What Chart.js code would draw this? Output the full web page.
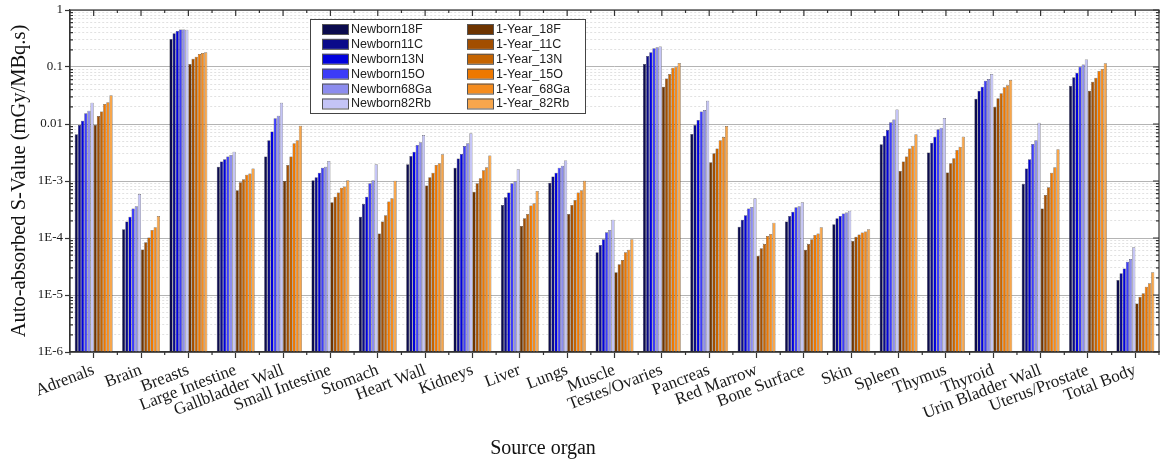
<!DOCTYPE html>
<html>
<head>
<meta charset="utf-8">
<script src="https://cdn.jsdelivr.net/npm/chart.js@4.4.1/dist/chart.umd.min.js"></script>
<style>
  html, body { margin: 0; padding: 0; background: #ffffff; }
  #wrap { position: relative; width: 1161px; height: 462px; }
</style>
</head>
<body>
<div id="wrap"><canvas id="c" width="1161" height="462"></canvas></div>
<script>
const categories = ['Adrenals','Brain','Breasts','Large Intestine','Gallbladder Wall','Small Intestine','Stomach','Heart Wall','Kidneys','Liver','Lungs','Muscle','Testes/Ovaries','Pancreas','Red Marrow','Bone Surface','Skin','Spleen','Thymus','Thyroid','Urin Bladder Wall','Uterus/Prostate','Total Body'];

const seriesNames = ['Newborn18F','Newborn11C','Newborn13N','Newborn15O','Newborn68Ga','Newborn82Rb','1-Year_18F','1-Year_11C','1-Year_13N','1-Year_15O','1-Year_68Ga','1-Year_82Rb'];

const newborn18F  = [0.0066, 1.42e-4, 0.31, 1.78e-3, 2.68e-3, 1.03e-3, 2.36e-4, 1.96e-3, 1.7e-3, 3.8e-4, 9.3e-4, 5.6e-5, 0.113, 6.7e-3, 1.58e-4, 1.94e-4, 1.74e-4, 4.4e-3, 3.15e-3, 0.0278, 8.9e-4, 0.047, 1.83e-5];
const newborn11C  = [0.0096, 1.95e-4, 0.39, 2.19e-3, 5.2e-3, 1.16e-3, 3.96e-4, 2.75e-3, 2.47e-3, 5.2e-4, 1.2e-3, 7.5e-5, 0.156, 9.6e-3, 2.08e-4, 2.44e-4, 2.22e-4, 6.2e-3, 4.7e-3, 0.0384, 1.66e-3, 0.066, 2.4e-5];
const newborn13N  = [0.0114, 2.36e-4, 0.43, 2.4e-3, 7.4e-3, 1.4e-3, 5.3e-4, 3.27e-3, 2.98e-3, 6.3e-4, 1.4e-3, 9.5e-5, 0.181, 0.0118, 2.5e-4, 2.9e-4, 2.44e-4, 7.85e-3, 6.0e-3, 0.045, 2.4e-3, 0.0795, 2.93e-5];
const newborn15O  = [0.0154, 3.3e-4, 0.457, 2.68e-3, 0.0126, 1.7e-3, 9.1e-4, 4.3e-3, 4.1e-3, 9.1e-4, 1.7e-3, 1.26e-4, 0.213, 0.0165, 3.3e-4, 3.45e-4, 2.7e-4, 0.0107, 8.1e-3, 0.0575, 4.45e-3, 0.101, 3.85e-5];
const newborn68Ga = [0.017, 3.6e-4, 0.457, 2.87e-3, 0.014, 1.78e-3, 1.03e-3, 4.8e-3, 4.6e-3, 9.8e-4, 1.85e-3, 1.38e-4, 0.221, 0.0176, 3.5e-4, 3.6e-4, 2.8e-4, 0.012, 8.6e-3, 0.0617, 5.2e-3, 0.111, 4.3e-5];
const newborn82Rb = [0.0237, 5.9e-4, 0.45, 3.27e-3, 0.0237, 2.24e-3, 1.96e-3, 6.4e-3, 6.9e-3, 1.6e-3, 2.3e-3, 2.08e-4, 0.23, 0.0256, 5e-4, 4.25e-4, 3.0e-4, 0.018, 0.0127, 0.075, 0.0105, 0.136, 6.9e-5];
const year18F  = [0.0096, 6.3e-5, 0.113, 6.9e-4, 1.0e-3, 4.25e-4, 1.2e-4, 8.3e-4, 6.5e-4, 1.63e-4, 2.63e-4, 2.5e-5, 0.045, 2.13e-3, 4.9e-5, 6.2e-5, 8.9e-5, 1.5e-3, 1.41e-3, 0.0201, 3.3e-4, 0.0384, 7.1e-6];
const year11C  = [0.0138, 8.4e-5, 0.14, 9.5e-4, 1.9e-3, 5.3e-4, 1.94e-4, 1.16e-3, 9.1e-4, 2.22e-4, 3.8e-4, 3.46e-5, 0.063, 3.06e-3, 6.6e-5, 7.85e-5, 1.05e-4, 2.19e-3, 2.04e-3, 0.0282, 5.7e-4, 0.055, 9.3e-6];
const year13N  = [0.0165, 1.02e-4, 0.152, 1.07e-3, 2.68e-3, 6.3e-4, 2.5e-4, 1.4e-3, 1.12e-3, 2.63e-4, 4.65e-4, 4.1e-5, 0.075, 3.7e-3, 7.85e-5, 9.5e-5, 1.15e-4, 2.68e-3, 2.5e-3, 0.0345, 7.8e-4, 0.065, 1.07e-5];
const year15O  = [0.0224, 1.38e-4, 0.169, 1.29e-3, 4.6e-3, 7.6e-4, 4.35e-4, 1.9e-3, 1.55e-3, 3.7e-4, 6.3e-4, 5.6e-5, 0.097, 5.2e-3, 1.08e-4, 1.13e-4, 1.25e-4, 3.7e-3, 3.5e-3, 0.044, 1.4e-3, 0.085, 1.4e-5];
const year68Ga = [0.024, 1.54e-4, 0.176, 1.36e-3, 5.2e-3, 8.0e-4, 5e-4, 2.04e-3, 1.74e-3, 4.06e-4, 6.9e-4, 6.2e-5, 0.101, 5.9e-3, 1.17e-4, 1.2e-4, 1.3e-4, 4.17e-3, 3.96e-3, 0.0477, 1.74e-3, 0.092, 1.6e-5];
const year82Rb = [0.032, 2.44e-4, 0.181, 1.65e-3, 9.3e-3, 1.03e-3, 1.01e-3, 2.94e-3, 2.79e-3, 6.7e-4, 1.01e-3, 9.5e-5, 0.118, 9.2e-3, 1.86e-4, 1.54e-4, 1.42e-4, 6.6e-3, 6.0e-3, 0.059, 3.6e-3, 0.116, 2.5e-5];

const yTickDecades = [1e-6, 1e-5, 1e-4, 1e-3, 0.01, 0.1, 1];
const yTickLabels  = ['1E-6', '1E-5', '1E-4', '1E-3', '0.01', '0.1', '1'];

const seriesValues = [newborn18F, newborn11C, newborn13N, newborn15O, newborn68Ga, newborn82Rb,
                      year18F, year11C, year13N, year15O, year68Ga, year82Rb];
const seriesColors = ['#0b0b4e', '#0a0a8a', '#0000dd', '#3c3cf8', '#8c8cee', '#c4c4f6',
                      '#6e3400', '#a24e00', '#c66400', '#ee7800', '#f58c1e', '#f7a64c'];

const serif = '"Liberation Serif", "Times New Roman", serif';
const sans = '"Liberation Sans", Arial, sans-serif';

function isDecade(v) {
  const l = Math.log10(v);
  return Math.abs(l - Math.round(l)) < 1e-9;
}

const datasets = seriesNames.map((name, i) => ({
  label: name,
  data: seriesValues[i],
  backgroundColor: seriesColors[i],
  borderColor: 'rgba(30,30,30,0.85)',
  borderWidth: 0.5,
  borderSkipped: false,
  categoryPercentage: 0.8,
  barPercentage: 1.0
}));

const framePlugin = {
  id: 'frame',
  afterDatasetsDraw(chart) {
    const { ctx, chartArea: a, scales } = chart;
    const x = scales.x, y = scales.y;
    ctx.save();
    ctx.strokeStyle = '#333333';
    ctx.lineWidth = 1.2;
    ctx.strokeRect(a.left, a.top, a.right - a.left, a.bottom - a.top);
    ctx.beginPath();
    const n = categories.length;
    for (let i = 0; i < n; i++) {
      const cx = x.getPixelForValue(i);
      ctx.moveTo(cx, a.top); ctx.lineTo(cx, a.top + 6);
    }
    for (let i = 0; i <= n; i++) {
      const bx = x.getPixelForValue(i - 0.5);
      ctx.moveTo(bx, a.top); ctx.lineTo(bx, a.top + 3);
      ctx.moveTo(bx, a.bottom); ctx.lineTo(bx, a.bottom + 3);
    }
    y.ticks.forEach(t => {
      const py = y.getPixelForValue(t.value);
      const len = isDecade(t.value) ? 6 : 3;
      ctx.moveTo(a.right, py); ctx.lineTo(a.right - len, py);
      if (!isDecade(t.value)) { ctx.moveTo(a.left, py); ctx.lineTo(a.left + 3, py); }
    });
    ctx.stroke();
    ctx.restore();
  },
  afterDraw(chart) {
    const { ctx } = chart;
    const bx = 310, by = 19, bw = 275, bh = 94;
    ctx.save();
    ctx.fillStyle = '#ffffff';
    ctx.fillRect(bx, by, bw, bh);
    ctx.strokeStyle = '#444444';
    ctx.lineWidth = 1;
    ctx.strokeRect(bx + 0.5, by + 0.5, bw, bh);
    ctx.font = '12.5px ' + sans;
    ctx.textBaseline = 'middle';
    chart.data.datasets.forEach((ds, i) => {
      const col = Math.floor(i / 6), row = i % 6;
      const sx = col === 0 ? 322 : 467;
      const sy = 29 + row * 14.9;
      ctx.fillStyle = ds.backgroundColor;
      ctx.fillRect(sx, sy - 5, 26, 10);
      ctx.strokeStyle = '#555555';
      ctx.strokeRect(sx + 0.5, sy - 5 + 0.5, 26, 10);
      ctx.fillStyle = '#222222';
      ctx.fillText(ds.label, sx + 29, sy + 0.5);
    });
    ctx.font = '20px ' + serif;
    ctx.fillStyle = '#111111';
    ctx.textAlign = 'center';
    ctx.textBaseline = 'middle';
    ctx.fillText('Source organ', 543, 449);
    ctx.restore();
  }
};

new Chart(document.getElementById('c'), {
  type: 'bar',
  data: { labels: categories, datasets },
  options: {
    responsive: false,
    animation: false,
    devicePixelRatio: 1,
    layout: { padding: { top: 10, right: 2, left: 0, bottom: 0 } },
    plugins: {
      legend: { display: false },
      tooltip: { enabled: false },
      title: { display: false }
    },
    scales: {
      x: {
        type: 'category',
        offset: true,
        grid: { display: true, drawOnChartArea: false, drawTicks: true, offset: false, tickLength: 6, tickColor: '#333333', tickWidth: 1.2 },
        border: { display: true, color: '#333333', width: 1.2 },
        ticks: {
          autoSkip: false,
          minRotation: 21,
          maxRotation: 21,
          padding: 2,
          color: '#1a1a1a',
          font: { family: serif, size: 17 }
        },
        afterFit(s) { s.height = 110; }
      },
      y: {
        type: 'logarithmic',
        min: 1e-6,
        max: 1,
        afterBuildTicks(s) {
          const t = [];
          for (let d = 0; d < yTickDecades.length; d++) {
            const base = yTickDecades[d];
            if (d === yTickDecades.length - 1) { t.push({ value: base }); break; }
            for (let m = 1; m <= 9; m++) t.push({ value: Number((m * base).toPrecision(3)) });
          }
          s.ticks = t;
        },
        grid: {
          color: (c) => (c.tick && isDecade(c.tick.value)) ? '#b4b4b4' : '#dadada',
          lineWidth: (c) => (c.tick && isDecade(c.tick.value)) ? 1 : 0.8,
          tickColor: (c) => (c.tick && isDecade(c.tick.value)) ? '#333333' : 'rgba(0,0,0,0)',
          tickLength: 5,
          tickWidth: 1.2
        },
        border: {
          display: true, color: '#333333', width: 1.2,
          dash: (c) => (c.type === 'tick' && c.tick && !isDecade(c.tick.value)) ? [2, 2] : []
        },
        ticks: {
          autoSkip: false,
          padding: 2,
          color: '#1a1a1a',
          font: { family: serif, size: 13 },
          callback: (v) => {
            const idx = yTickDecades.findIndex(d => Math.abs(Math.log10(d) - Math.log10(v)) < 1e-9);
            return idx >= 0 ? yTickLabels[idx] : '';
          }
        },
        title: {
          display: true,
          text: 'Auto-absorbed S-Value (mGy/MBq.s)',
          color: '#111111',
          font: { family: serif, size: 20.5 },
          padding: { top: 7, bottom: 0 }
        },
        afterFit(s) { s.width = 70; }
      }
    }
  },
  plugins: [framePlugin]
});
</script>
</body>
</html>
